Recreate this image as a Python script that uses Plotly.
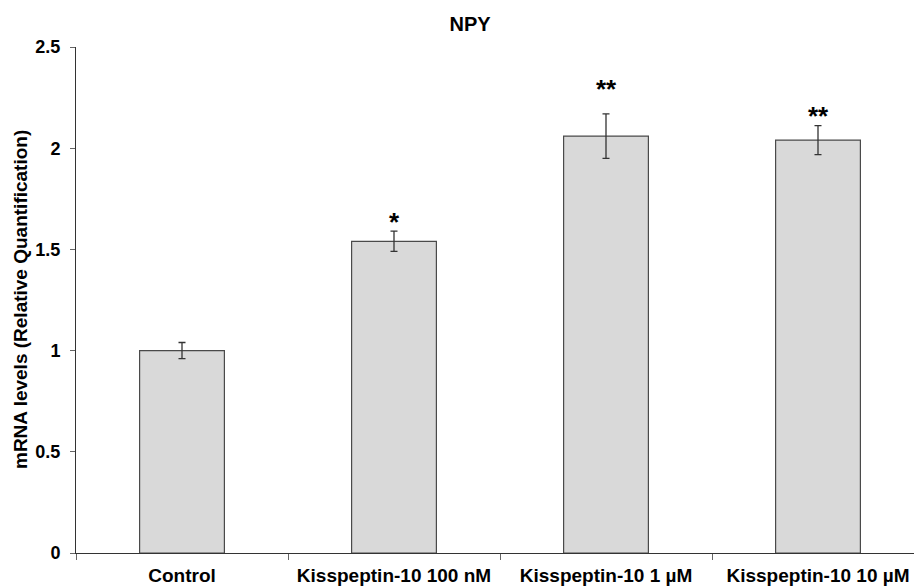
import plotly.graph_objects as go

categories = ["Control", "Kisspeptin-10 100 nM", "Kisspeptin-10 1 µM", "Kisspeptin-10 10 µM"]
values = [1.00, 1.54, 2.06, 2.04]
errors = [0.04, 0.05, 0.11, 0.072]
significance = ["", "*", "**", "**"]
sig_levels = [1.10, 1.66, 2.317, 2.185]
y_ticks = [0, 0.5, 1, 1.5, 2, 2.5]
y_tick_text = ["0", "0.5", "1", "1.5", "2", "2.5"]

FONT = "Liberation Sans, Arial, sans-serif"

W, H = 914, 586
ML, MT, MB, MR = 76, 47, 33, 0
plot_w = W - ML - MR

fig = go.Figure()
fig.add_trace(go.Bar(
    x=categories, y=values, width=0.40,
    marker=dict(color="#d9d9d9", line=dict(color="#4a4a4a", width=1.2)),
    error_y=dict(type="data", array=errors, visible=True, color="#333333",
                 thickness=1.3, width=3.5),
    showlegend=False,
))

for c, s, yl in zip(categories, significance, sig_levels):
    if s:
        fig.add_annotation(x=c, y=yl, text=f"<b>{s}</b>", showarrow=False,
                           font=dict(family=FONT, size=26, color="black"),
                           yanchor="middle", xanchor="center", yshift=-5)

fig.add_annotation(
    xref="paper", yref="paper", x=(20 - ML) / plot_w, y=0.5,
    text="<b>mRNA levels (Relative Quantification)</b>", textangle=-90,
    showarrow=False, xanchor="center", yanchor="middle",
    font=dict(family=FONT, size=19, color="black"),
)

fig.update_layout(
    width=W, height=H,
    paper_bgcolor="white", plot_bgcolor="white",
    margin=dict(l=ML, r=MR, t=MT, b=MB, autoexpand=False),
    title=dict(text="<b>NPY</b>", x=470 / W, xanchor="center",
               y=1 - 24 / H, yanchor="middle",
               font=dict(family=FONT, size=20, color="black")),
)
fig.update_xaxes(
    range=[-0.5, -0.5 + plot_w / 212], showline=True, linecolor="#333333", linewidth=1,
    ticks="outside", tickson="boundaries", ticklen=6, tickcolor="#666666",
    ticklabelstandoff=5, ticklabeloverflow="allow",
    tickfont=dict(family=FONT, size=19, color="black"),
    tickprefix="<b>", ticksuffix="</b>", showgrid=False, zeroline=False,
)
fig.update_yaxes(
    range=[0, 2.5], showline=True, linecolor="#333333", linewidth=1,
    ticks="outside", ticklen=5, tickcolor="#666666", ticklabelstandoff=6,
    tickvals=y_ticks, ticktext=[f"<b>{t}</b>" for t in y_tick_text],
    tickfont=dict(family=FONT, size=18, color="black"),
    showgrid=False, zeroline=False,
)

fig.write_html("out.html", config={"displayModeBar": False},
               post_script="document.body.style.margin='0';document.body.style.overflow='hidden';")
